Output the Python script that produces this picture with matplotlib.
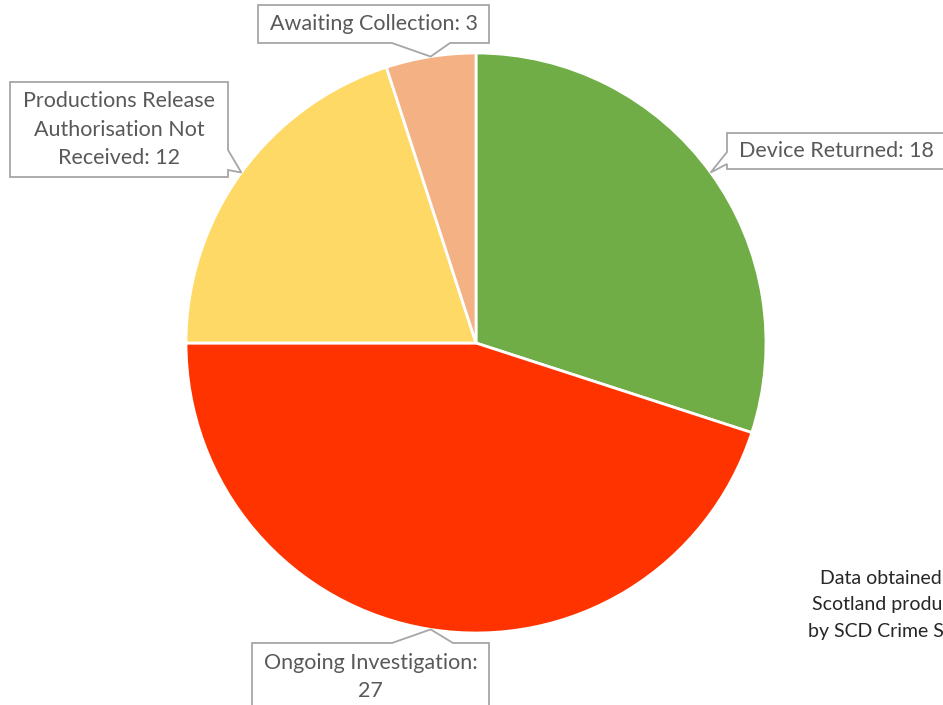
import numpy as np
import matplotlib
matplotlib.use("Agg")
from matplotlib import pyplot as plt
from matplotlib.patches import Polygon

plt.rcParams['font.family'] = ['Lato', 'DejaVu Sans']

# data
categories = ['Device Returned', 'Ongoing Investigation',
              'Productions Release Authorisation Not Received', 'Awaiting Collection']
values = [18, 27, 12, 3]
colors = ['#70AD47', '#FF3300', '#FFD966', '#F4B183']
label_texts = ['Device Returned: 18', 'Ongoing Investigation:\n27',
               'Productions Release\nAuthorisation Not\nReceived: 12', 'Awaiting Collection: 3']
note_lines = ['Data obtained from Police', 'Scotland productions system', 'by SCD Crime Statistics']

W, H = 943, 705
cx, cy, R = 476, 343, 290          # pie centre / radius in image pixels

# callout boxes (image px): x0, y0, x1, y1, pointer side, base start, base end
boxes = [
    (727, 133, 945, 169, 'left', 152, 164),
    (252, 643, 489, 740, 'top', 392, 453),
    (10, 82, 228, 177, 'right', 150, 170),
    (258, 5, 489, 43, 'bottom', 392, 450),
]


def iy(y):
    return H - y


fig = plt.figure(figsize=(W / 100, H / 100), dpi=100)
ax = fig.add_axes([0, 0, 1, 1])

ax.pie(values, colors=colors, startangle=90, counterclock=False, radius=R,
       center=(cx, iy(cy)), frame=True,
       wedgeprops=dict(edgecolor='white', linewidth=2))

# wedge mid angles for the callout tips
total = float(sum(values))
start = 90.0
mids = []
for v in values:
    span = 360.0 * v / total
    mids.append(start - span / 2)
    start -= span

for (x0, y0, x1, y1, side, b1, b2), txt, ang in zip(boxes, label_texts, mids):
    tx = cx + R * np.cos(np.radians(ang))
    ty = cy - R * np.sin(np.radians(ang))
    tip = (tx, ty)
    if side == 'bottom':
        pts = [(x0, y0), (x1, y0), (x1, y1), (b2, y1), tip, (b1, y1), (x0, y1)]
    elif side == 'top':
        pts = [(x0, y0), (b1, y0), tip, (b2, y0), (x1, y0), (x1, y1), (x0, y1)]
    elif side == 'left':
        pts = [(x0, y0), (x1, y0), (x1, y1), (x0, y1), (x0, b2), tip, (x0, b1)]
    else:
        pts = [(x0, y0), (x1, y0), (x1, b1), tip, (x1, b2), (x1, y1), (x0, y1)]
    pts = [(px, iy(py)) for px, py in pts]
    ax.add_patch(Polygon(pts, closed=True, facecolor='white', edgecolor='#A6A6A6',
                         linewidth=1.3, zorder=3))
    if side == 'top':
        ty_txt = y0 + 34
    else:
        ty_txt = (y0 + y1) / 2
    ax.text((x0 + x1) / 2, iy(ty_txt), txt, ha='center', va='center',
            fontsize=15.5, color='#595959', linespacing=1.55, zorder=4)

note_x = [820, 812, 808]
for i, (ln, nx) in enumerate(zip(note_lines, note_x)):
    ax.text(nx, iy(578 + 26.5 * i), ln, ha='left', va='center', fontsize=14,
            color='#262626')

ax.set_xlim(0, W)
ax.set_ylim(0, H)
ax.set_aspect('equal')
ax.axis('off')

fig.savefig('out.png', dpi=100)
